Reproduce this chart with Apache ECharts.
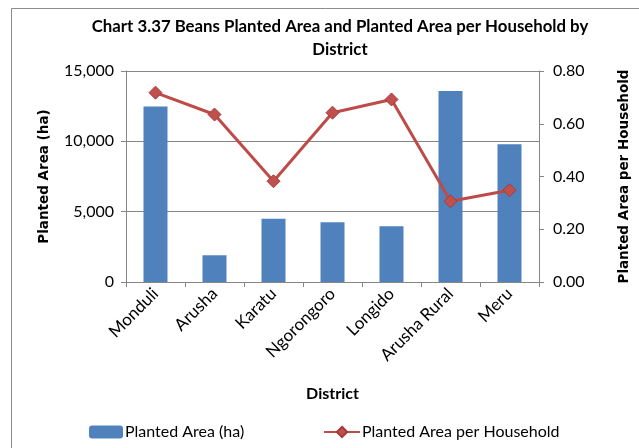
<!DOCTYPE html>
<html>
<head>
<meta charset="utf-8">
<script src="https://cdn.jsdelivr.net/npm/echarts@6/dist/echarts.min.js"></script>
<style>html,body{margin:0;padding:0;background:#fff}#c{width:639px;height:448px}</style>
</head>
<body>
<div id="c"></div>
<script>
const districts = ['Monduli', 'Arusha', 'Karatu', 'Ngorongoro', 'Longido', 'Arusha Rural', 'Meru'];
const plantedArea = [12470, 1900, 4490, 4250, 3960, 13580, 9800];
const areaPerHousehold = [0.718, 0.635, 0.382, 0.642, 0.692, 0.306, 0.348];

const FONT = 'Lato';
const NAMEFONT = 'DejaVu Sans';
const chart = echarts.init(document.getElementById('c'), null, {renderer: 'canvas'});
chart.setOption({
  backgroundColor: '#fff',
  animation: false,
  textStyle: {fontFamily: FONT},
  graphic: [{
    type: 'rect', shape: {x: 11.5, y: 8.5, width: 700, height: 500},
    style: {fill: 'none', stroke: '#8c8c8c', lineWidth: 1}, silent: true, z: -1
  }],
  title: {
    text: 'Chart 3.37 Beans Planted Area and Planted Area per Household by\nDistrict',
    left: 335, top: 10, textAlign: 'center',
    textStyle: {fontFamily: FONT, fontWeight: 'bold', fontSize: 16.8, color: '#000', lineHeight: 23, align: 'center'}
  },
  legend: [
    {data: ['Planted Area (ha)'], left: 89, top: 424, padding: 0, itemWidth: 34, itemHeight: 13,
     textStyle: {fontFamily: FONT, fontSize: 16, color: '#000', padding: [0, 0, 0, -3]}},
    {data: ['Planted Area per Household'], left: 323, top: 424, padding: 0, itemWidth: 36, itemHeight: 13,
     textStyle: {fontFamily: FONT, fontSize: 16, color: '#000', padding: [0, 0, 0, -3]}}
  ],
  grid: {left: 126, right: 96, top: 71, bottom: 166, containLabel: false},
  xAxis: {
    type: 'category', data: districts,
    name: 'District', nameLocation: 'middle', nameGap: 104,
    nameTextStyle: {fontFamily: FONT, fontWeight: 'bold', fontSize: 16, color: '#000'},
    axisLine: {lineStyle: {color: '#868686'}},
    axisTick: {show: true, alignWithLabel: false, length: 5, lineStyle: {color: '#868686'}},
    axisLabel: {rotate: 45, fontFamily: FONT, fontSize: 17, color: '#000', margin: 9, interval: 0}
  },
  yAxis: [
    {
      type: 'value', min: 0, max: 15000, interval: 5000,
      name: 'Planted Area (ha)', nameLocation: 'middle', nameGap: 75, nameRotate: 90,
      nameTextStyle: {fontFamily: NAMEFONT, fontWeight: 'bold', fontSize: 13.5, color: '#000'},
      axisLine: {show: true, lineStyle: {color: '#868686'}},
      axisTick: {show: true, length: 5, lineStyle: {color: '#868686'}},
      splitLine: {show: true, lineStyle: {color: '#868686', width: 1}},
      axisLabel: {fontFamily: FONT, fontSize: 16, color: '#000', margin: 12,
        formatter: v => v.toLocaleString('en-US')}
    },
    {
      type: 'value', min: 0, max: 0.8, interval: 0.2, position: 'right',
      name: 'Planted Area per Household', nameLocation: 'middle', nameGap: 78, nameRotate: 90,
      nameTextStyle: {fontFamily: NAMEFONT, fontWeight: 'bold', fontSize: 13.5, color: '#000'},
      axisLine: {show: true, lineStyle: {color: '#868686'}},
      axisTick: {show: true, length: 5, lineStyle: {color: '#868686'}},
      splitLine: {show: false},
      axisLabel: {fontFamily: FONT, fontSize: 16, color: '#000', margin: 14,
        formatter: v => v.toFixed(2)}
    }
  ],
  series: [
    {
      name: 'Planted Area (ha)', type: 'bar', data: plantedArea, yAxisIndex: 0,
      barWidth: 24, itemStyle: {color: '#4F81BD'}
    },
    {
      name: 'Planted Area per Household', type: 'line', data: areaPerHousehold, yAxisIndex: 1,
      symbol: 'diamond', symbolSize: 13, showAllSymbol: true,
      lineStyle: {color: '#BE4B48', width: 3},
      itemStyle: {color: '#C0504D', borderColor: '#A33D3A', borderWidth: 1}
    }
  ]
});
</script>
</body>
</html>
